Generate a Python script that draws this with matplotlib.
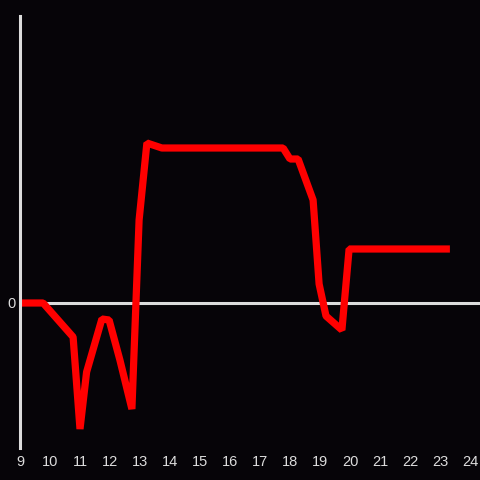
import numpy as np
import matplotlib as mpl
mpl.use('Agg')
import matplotlib.pyplot as plt

# values
x = [9.0, 9.77, 10.77, 11.0, 11.22, 11.73, 11.97, 12.33, 12.73, 12.97, 13.23,
     13.73, 17.77, 18.0, 18.27, 18.77, 18.97, 19.2, 19.73, 19.97, 23.33]
y = [0.0, 0.0, -3.4, -12.6, -6.9, -1.6, -1.7, -5.7, -10.6, 8.3, 16.0,
     15.5, 15.5, 14.4, 14.4, 10.3, 1.9, -1.3, -2.7, 5.4, 5.4]
xticks = list(range(9, 25))

bg = '#060408'
fg = '#dcdcdc'

fig = plt.figure(figsize=(4.8, 4.8), dpi=100, facecolor=bg)
ax = fig.add_axes([20 / 480, 32 / 480, 460 / 480, 432 / 480], facecolor=bg)

ax.axhline(0, color=fg, lw=2.2, zorder=1)
ax.plot(x, y, color='#ff0000', lw=5.2, solid_joinstyle='bevel',
        solid_capstyle='butt', zorder=2)

ax.set_xlim(9, 9 + 460 / 30)
ax.set_ylim(-14.5, 28.7)
ax.set_xticks(xticks)
ax.set_yticks([0])

for s in ['top', 'right', 'bottom']:
    ax.spines[s].set_visible(False)
ax.spines['left'].set_color(fg)
ax.spines['left'].set_linewidth(2.2)

ax.tick_params(axis='x', length=0, pad=5, colors=fg, labelsize=10.5)
ax.tick_params(axis='y', length=0, pad=3, colors=fg, labelsize=10.5)
for lab in ax.get_xticklabels() + ax.get_yticklabels():
    lab.set_family('Liberation Sans')

fig.savefig('out.png', dpi=100, facecolor=bg)
